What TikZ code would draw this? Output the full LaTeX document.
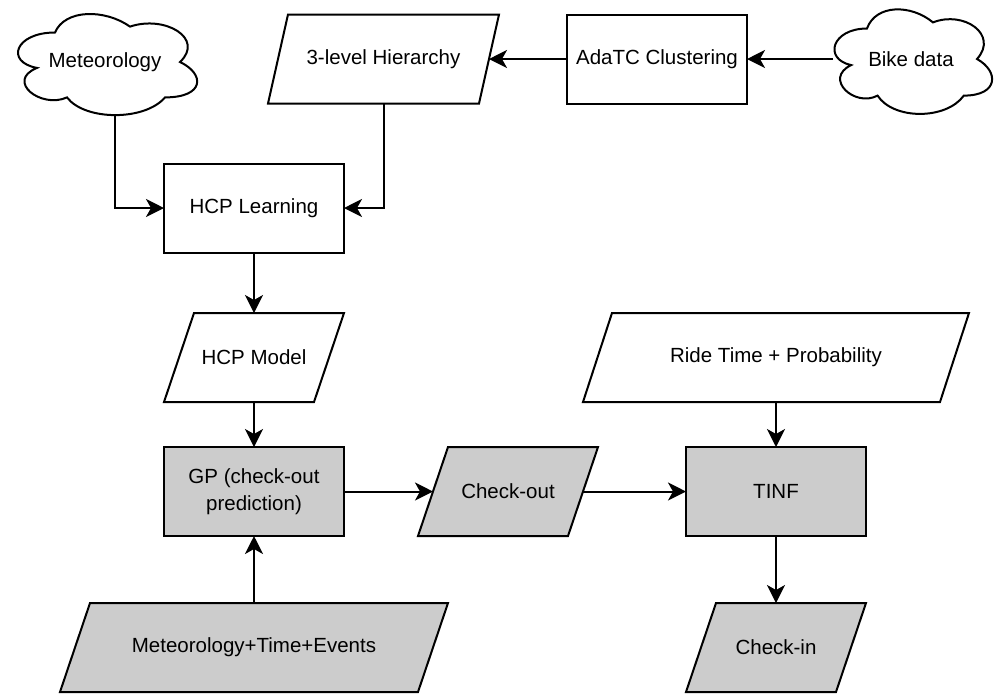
\documentclass[tikz,border=0pt]{standalone}
\usepackage{fontspec}
\setmainfont{Liberation Sans}
\usetikzlibrary{arrows.meta}

\pgfdeclarelayer{bg}
\pgfsetlayers{bg,main}

\definecolor{shade}{HTML}{CCCCCC}

\tikzset{
  boxline/.style={draw=black, line width=1pt, line join=miter},
  labeltext/.style={font=\fontsize{10.25pt}{13.3pt}\selectfont, text=black,
    align=center, inner sep=0pt, outer sep=0pt},
  procbox/.style={labeltext, boxline, fill=white,
    minimum width=90pt, minimum height=44.5pt},
  grayproc/.style={procbox, fill=shade},
  ioarea/.style={labeltext, minimum height=44.5pt},
  flow/.style={line width=1pt, -{Stealth[length=9pt,width=9pt,inset=2.5pt]}},
}

% outline of an input/output parallelogram drawn round a named node
\newcommand\ioshape[3]{%
  \begin{pgfonlayer}{bg}
    \draw[boxline, fill=#3] ([xshift=#2]#1.north west) -- (#1.north east)
      -- ([xshift=-#2]#1.south east) -- (#1.south west) -- cycle;
  \end{pgfonlayer}}

% cloud outline: left, top (px), half width, half height (pt)
\newcommand\cloudshape[4]{%
  \begin{scope}[shift={(#1,#2)}, x=#3, y=-#4]
    \draw[boxline, fill=white]
      (0.25,0.25) .. controls (0.05,0.25) and (0,0.5) .. (0.16,0.55)
      .. controls (0,0.66) and (0.18,0.9) .. (0.31,0.8)
      .. controls (0.4,1) and (0.7,1) .. (0.8,0.8)
      .. controls (1,0.8) and (1,0.6) .. (0.875,0.5)
      .. controls (1,0.3) and (0.8,0.1) .. (0.625,0.2)
      .. controls (0.5,0.05) and (0.3,0.05) .. (0.25,0.25) -- cycle;
  \end{scope}}

\begin{document}
\begin{tikzpicture}[x=0.5pt, y=-0.5pt]
  \useasboundingbox (0,0) rectangle (997,693);

  % clouds
  \cloudshape{5}{3}{100pt}{59pt}
  \cloudshape{823}{-2}{88pt}{61pt}
  \node[labeltext, minimum width=92pt, minimum height=53pt] (met) at (105,62) {Meteorology};
  \node[labeltext, minimum width=78pt, minimum height=51.5pt] (bike) at (911,59) {Bike data};

  % top row
  \node[ioarea, minimum width=115.5pt] (h3) at (383.5,59) {3-level Hierarchy};
  \ioshape{h3}{10pt}{white}
  \node[procbox] (ada) at (657,59) {AdaTC Clustering};

  % learning stage
  \node[procbox] (hcpl) at (254,208) {HCP Learning};
  \node[ioarea, minimum width=90pt] (hcpm) at (254,357.5) {HCP Model};
  \ioshape{hcpm}{15pt}{white}

  % prediction stage
  \node[grayproc] (gp) at (254,491.5) {GP (check-out\\prediction)};
  \node[ioarea, minimum width=90pt] (co) at (508,491.5) {Check-out};
  \ioshape{co}{15pt}{shade}
  \node[grayproc] (tinf) at (776,491.5) {TINF};
  \node[ioarea, minimum width=193pt] (ride) at (776,357.5) {Ride Time + Probability};
  \ioshape{ride}{14.5pt}{white}
  \node[ioarea, minimum width=194pt] (mte) at (254,647.5) {Meteorology+Time+Events};
  \ioshape{mte}{15pt}{shade}
  \node[ioarea, minimum width=90pt] (ci) at (776,647.5) {Check-in};
  \ioshape{ci}{15pt}{shade}

  % connectors
  \draw[flow] (bike.west) -- (bike.west -| ada.east);
  \draw[flow] (ada.west) -- ([xshift=-5pt]h3.east);
  \draw[flow] ([xshift=5pt]met.south) |- (hcpl.west);
  \draw[flow] (h3.south) |- (hcpl.east);
  \draw[flow] (hcpl.south) -- (hcpm.north);
  \draw[flow] (hcpm.south) -- (gp.north);
  \draw[flow] (mte.north) -- (gp.south);
  \draw[flow] (gp.east) -- ([xshift=7.5pt]co.west);
  \draw[flow] ([xshift=-7.5pt]co.east) -- (tinf.west);
  \draw[flow] (ride.south) -- (tinf.north);
  \draw[flow] (tinf.south) -- (ci.north);
\end{tikzpicture}
\end{document}
